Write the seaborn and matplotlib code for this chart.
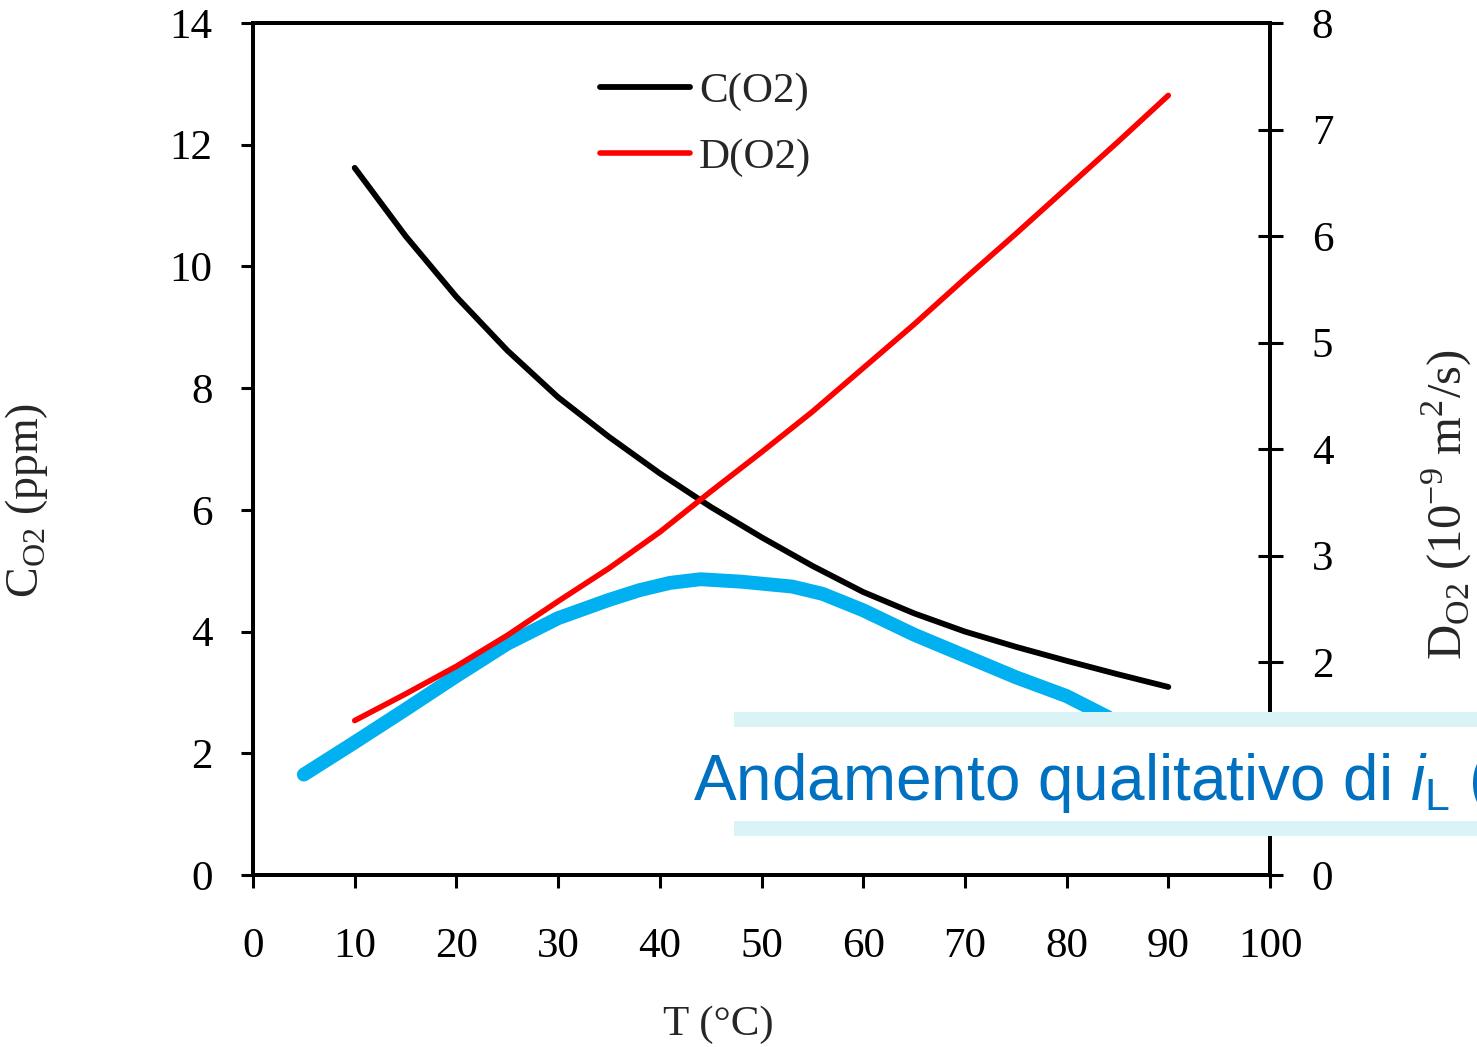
import numpy as np
import pandas as pd
import seaborn as sns
import matplotlib.pyplot as plt
from matplotlib.patches import Rectangle
from matplotlib.lines import Line2D

sns.set_theme(style="white")
plt.rcParams['font.family'] = ['Liberation Serif', 'DejaVu Serif']
plt.rcParams['mathtext.fontset'] = 'custom'
plt.rcParams['mathtext.rm'] = 'Liberation Serif'
plt.rcParams['mathtext.it'] = 'Liberation Sans:italic'
plt.rcParams['mathtext.sf'] = 'Liberation Sans'
plt.rcParams['lines.solid_capstyle'] = 'round'

# C(O2) in ppm (left axis) vs T
t_c = [10, 15, 20, 25, 30, 35, 40, 45, 50, 55, 60, 65, 70, 75, 80, 85, 90]
c_o2 = [11.62, 10.5, 9.5, 8.62, 7.85, 7.2, 6.6, 6.05, 5.55, 5.08, 4.65, 4.3, 4.0, 3.75, 3.52, 3.3, 3.09]

# D(O2) in 1e-9 m2/s (right axis)
t_d = [10, 15, 20, 25, 30, 35, 40, 45, 50, 55, 60, 65, 70, 75, 80, 85, 90]
d_o2 = [1.45, 1.7, 1.96, 2.25, 2.57, 2.88, 3.22, 3.6, 3.97, 4.35, 4.76, 5.17, 5.6, 6.02, 6.45, 6.88, 7.32]

# qualitative limiting current (drawn on left axis)
t_il = [5, 10, 15, 20, 25, 30, 35, 38, 41, 44, 48, 53, 56, 60, 65, 70, 75, 80, 84, 88, 90]
i_l = [1.65, 2.18, 2.72, 3.27, 3.8, 4.22, 4.52, 4.68, 4.8, 4.86, 4.82, 4.74, 4.62, 4.35, 3.95, 3.6, 3.25, 2.94, 2.6, 2.1, 1.85]

W, H = 1477, 1047
fig = plt.figure(figsize=(W / 100, H / 100), dpi=100)
ax = fig.add_axes([253 / W, 172 / H, 1017 / W, 852 / H])

sns.lineplot(x=t_il, y=i_l, ax=ax, color='#00B0F0', linewidth=10, sort=False)
sns.lineplot(x=t_c, y=c_o2, ax=ax, color='black', linewidth=4.2, sort=False)
ax2 = ax.twinx()
sns.lineplot(x=t_d, y=d_o2, ax=ax2, color='#FF0000', linewidth=4.0, sort=False)

ax.set_xlim(0, 100)
ax.set_ylim(0, 14)
ax2.set_ylim(0, 8)
ax.set_xticks(range(0, 101, 10))
ax.set_yticks(range(0, 15, 2))
ax2.set_yticks(range(0, 9, 1))

fs = 31
ax.tick_params(axis='y', direction='out', length=9, width=2.2, pad=20, labelsize=fs, left=True, colors='black')
ax.tick_params(axis='x', direction='out', length=9, width=2.2, pad=29, labelsize=fs, bottom=True, colors='black')
ax2.tick_params(axis='y', direction='inout', length=18, width=2.2, pad=21, labelsize=fs, right=True, colors='black')
for a in (ax, ax2):
    for s in a.spines.values():
        s.set_color('black')
        s.set_linewidth(2.8)
    a.grid(False)

ax.set_xlabel('T (°C)', fontsize=fs)
ax.set_ylabel(r'C$_{\mathrm{O2}}$ (ppm)', fontsize=33)
ax2.set_ylabel(r'D$_{\mathrm{O2}}$ (10$^{\mathrm{-9}}$ m$^{\mathrm{2}}$/s)', fontsize=35)
ax.xaxis.set_label_coords((718 - 253) / 1017, (875 - 1005) / 852)
ax.yaxis.set_label_coords((50 - 253) / 1017, (875 - 500) / 852)
ax2.yaxis.set_label_coords((1420 - 253) / 1017, (875 - 505) / 852)

handles = [Line2D([], [], color='black', linewidth=4.2),
           Line2D([], [], color='#FF0000', linewidth=4.0)]
ax2.legend(handles, ['C(O2)', 'D(O2)'], loc='upper left',
           bbox_to_anchor=((600 - 253) / 1017, (875 - 72) / 852),
           frameon=False, fontsize=fs, handlelength=2.1, handletextpad=0.2,
           labelspacing=0.62, borderpad=0, borderaxespad=0)

# annotation box
fig.patches.append(Rectangle((734 / W, 211 / H), (W - 734) / W, 124 / H,
                             transform=fig.transFigure, facecolor='white',
                             edgecolor='none', zorder=5))
for y0 in (211, 320):
    fig.patches.append(Rectangle((734 / W, y0 / H), (W - 734) / W, 15 / H,
                                 transform=fig.transFigure, facecolor='#DAF3F7',
                                 edgecolor='none', zorder=6))
fig.text(693 / W, 247 / H, r'Andamento qualitativo di $i_{\mathsf{L}}$ (',
         family=['Liberation Sans'], fontsize=46, color='#0070C0',
         va='baseline', ha='left', zorder=7)

fig.savefig('out.png', dpi=100)
